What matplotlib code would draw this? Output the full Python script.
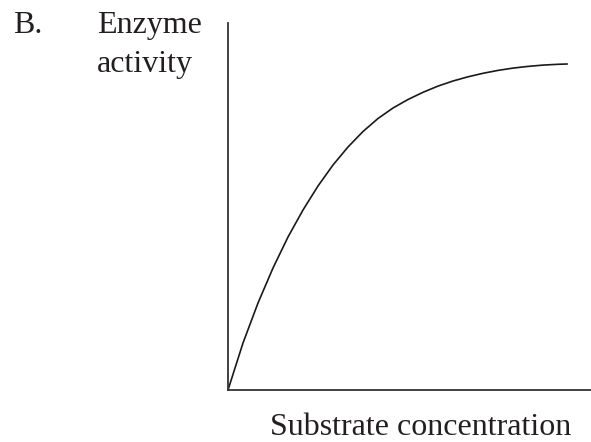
import matplotlib
matplotlib.use("Agg")
import matplotlib.pyplot as plt

# Curve values (substrate, activity), arbitrary units
substrate = [0, 15, 30, 45, 60, 75, 90, 105, 120, 135, 150, 165, 180, 195, 210, 225, 240, 255, 270, 285, 300, 315, 330, 339]
activity = [0, 47, 87, 122, 153, 180, 204, 225, 243, 258.5, 271.5, 282, 290.5, 297.7, 303.9, 309,
            313.2, 316.7, 319.6, 321.9, 323.6, 324.9, 325.7, 326]

label_panel = "B."
label_y = ["Enzyme", "activity"]
label_x = "Substrate concentration"

W, H = 591, 442
fig = plt.figure(figsize=(W / 100, H / 100), dpi=100)
fig.patch.set_facecolor("white")

ax = fig.add_axes([228 / W, 52 / H, (W - 228) / W, (390 - 23) / H])
ax.plot(substrate, activity, color="#1a1a1a", lw=1.2, solid_joinstyle="round")
ax.set_xlim(0, W - 228)
ax.set_ylim(0, 390 - 23)
for s in ["top", "right"]:
    ax.spines[s].set_visible(False)
for s in ["left", "bottom"]:
    ax.spines[s].set_color("#333333")
    ax.spines[s].set_linewidth(1.3)
ax.set_xticks([])
ax.set_yticks([])
ax.patch.set_alpha(0)

font = dict(family="Liberation Serif", size=23, color="#231f20")
fig.text(13 / W, 1 - 33 / H, label_panel, va="baseline", ha="left", **font)
fig.text(97 / W, 1 - 33 / H, label_y[0], va="baseline", ha="left", **font)
fig.text(97 / W, 1 - 72 / H, label_y[1], va="baseline", ha="left", **font)
fig.text(270 / W, 1 - 435 / H, label_x, va="baseline", ha="left", **font)

fig.savefig("out.png", dpi=100, facecolor="white")
